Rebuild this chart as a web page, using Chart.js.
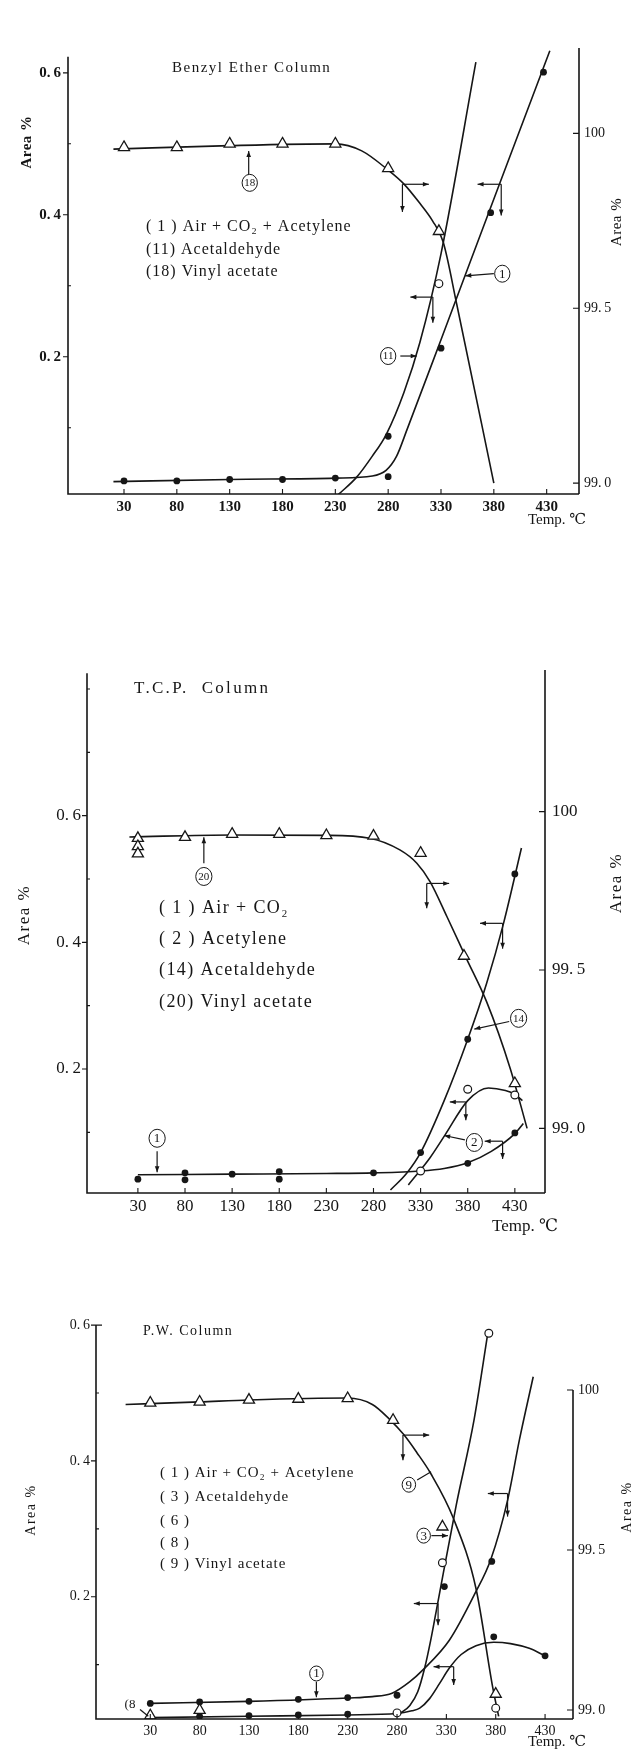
<!DOCTYPE html>
<html lang="en">
<head>
<meta charset="UTF-8">
<title>Area % vs Temp. — Benzyl Ether / T.C.P. / P.W. Columns</title>
<script src="https://cdn.jsdelivr.net/npm/chart.js@4"></script>
<style>
    body { margin: 0; background: #fff; width: 635px; height: 1751px; position: relative; overflow: hidden; }
    .panel { position: absolute; left: 0; }
</style>
</head>
<body>
<div class="panel" style="top:0px"><canvas id="benzyl" width="635" height="530"></canvas></div>
<div class="panel" style="top:640px"><canvas id="tcp" width="635" height="600"></canvas></div>
<div class="panel" style="top:1300px"><canvas id="pw" width="635" height="451"></canvas></div>

<script>
// ---- shared axis values ----
const temps = [30, 80, 130, 180, 230, 280, 330, 380, 430];
const leftTicks = [0.1, 0.2, 0.3, 0.4, 0.5, 0.6];
const leftTicksTcp = [0.1, 0.2, 0.3, 0.4, 0.5, 0.6, 0.7, 0.8];
const leftLabelled = [0.2, 0.4, 0.6];
const rightTicks = [99.0, 99.5, 100];

// ---- Benzyl Ether column ----
const beDots = [[30, 0.025], [80, 0.025], [130, 0.027], [180, 0.027], [230, 0.029], [280, 0.031], [280, 0.088], [330, 0.212], [377, 0.403], [427, 0.601]];
const beRings = [[328, 0.303]];
const beTriangles = [[30, 99.96], [80, 99.96], [130, 99.97], [180, 99.97], [230, 99.97], [280, 99.90], [328, 99.72]];
const beAirCurve = [[20, 0.024], [130, 0.027], [230, 0.029], [265, 0.032], [278, 0.040], [288, 0.060], [298, 0.098], [330, 0.224], [385, 0.442], [433, 0.631]];
const beAldCurve = [[233, 0.006], [250, 0.03], [265, 0.06], [278, 0.09], [295, 0.15], [310, 0.22], [330, 0.345], [363, 0.615]];
const beVinylCurve = [[20, 99.955], [130, 99.965], [230, 99.97], [255, 99.95], [280, 99.895], [295, 99.855], [310, 99.80], [322, 99.75], [332, 99.69], [345, 99.51], [380, 99.0]];
const beArrows = [[148, 0.455, 148, 0.49], [293.5, 0.443, 318.5, 0.443], [293.5, 0.443, 293.5, 0.404], [387, 0.443, 364.6, 0.443], [387, 0.443, 387, 0.399],
    [322.3, 0.284, 301, 0.284], [322.3, 0.284, 322.3, 0.248], [291.5, 0.201, 307, 0.201], [380, 0.317, 353, 0.314]];
const beLeaders = [];
const beTags = [['18', 149, 0.445], ['11', 280, 0.201], ['1', 388, 0.317]];
const beLegend = ['( 1 ) Air + CO₂ + Acetylene', '(11) Acetaldehyde', '(18) Vinyl acetate'];

// ---- T.C.P. column ----
const tcpDots = [[30, 0.026], [80, 0.036], [80, 0.025], [130, 0.034], [180, 0.038], [180, 0.026], [280, 0.036], [330, 0.068], [380, 0.051], [380, 0.247], [430, 0.099], [430, 0.508]];
const tcpRings = [[330, 0.039], [380, 0.168], [430, 0.159]];
const tcpTriangles = [[30, 99.916], [30, 99.89], [30, 99.867], [80, 99.919], [130, 99.929], [180, 99.929], [230, 99.925], [280, 99.923], [330, 99.869], [376, 99.544], [430, 99.142]];
const tcpAirCurve = [[30, 0.033], [130, 0.034], [230, 0.035], [280, 0.036], [330, 0.039], [355, 0.043], [380, 0.052], [405, 0.07], [430, 0.098], [439, 0.114]];
const tcpAcetyleneCurve = [[317, 0.017], [340, 0.06], [356, 0.096], [380, 0.15], [402, 0.17], [420, 0.166], [430, 0.16], [438, 0.15]];
const tcpAldCurve = [[298, 0.009], [315, 0.035], [330, 0.068], [355, 0.15], [380, 0.247], [400, 0.335], [418, 0.43], [437, 0.549]];
const tcpVinylCurve = [[21, 99.92], [130, 99.926], [230, 99.925], [276, 99.916], [308, 99.879], [326, 99.837], [340, 99.779], [358, 99.668], [378, 99.54], [400, 99.40], [425, 99.19], [443, 99.0]];
const tcpArrows = [[100, 0.525, 100, 0.566], [336.5, 0.493, 360.3, 0.493], [336.5, 0.493, 336.5, 0.454], [417, 0.43, 393, 0.43], [417, 0.43, 417, 0.39],
    [424, 0.275, 387, 0.263], [50.4, 0.07, 50.4, 0.037], [377, 0.088, 355, 0.095], [417, 0.086, 398, 0.086], [417, 0.086, 417, 0.058],
    [378, 0.148, 361, 0.148], [378, 0.148, 378, 0.119]];
const tcpLeaders = [];
const tcpTags = [['20', 100, 0.504], ['14', 434, 0.28], ['1', 50.4, 0.0906], ['2', 387, 0.084]];
const tcpLegend = ['( 1 ) Air + CO₂', '( 2 ) Acetylene', '(14) Acetaldehyde', '(20) Vinyl acetate'];

// ---- P.W. column ----
const pwDots = [[30, 0.043], [80, 0.045], [130, 0.046], [180, 0.049], [230, 0.0515], [280, 0.055], [80, 0.024], [130, 0.025], [180, 0.026], [230, 0.027],
    [328, 0.215], [376, 0.252], [378, 0.141], [430, 0.113]];
const pwRings = [[280, 0.029], [326, 0.25], [373, 0.588], [380, 0.036]];
const pwTriangles = [[30, 0.025], [80, 0.033], [326, 0.303]];
const pwVinylTriangles = [[30, 99.96], [80, 99.963], [130, 99.969], [180, 99.972], [230, 99.974], [276, 99.906], [380, 99.05]];
const pwAirCurve = [[30, 0.043], [130, 0.046], [230, 0.051], [255, 0.053], [275, 0.058], [293, 0.075], [306, 0.092], [333, 0.136], [359, 0.205], [375, 0.255], [392, 0.342], [404, 0.431], [418, 0.524]];
const pwAldCurve = [[283, 0.028], [293, 0.04], [301, 0.06], [308, 0.095], [314, 0.135], [320, 0.181], [340, 0.335], [358, 0.46], [372, 0.588]];
const pwLowCurve = [[30, 0.022], [130, 0.024], [230, 0.026], [280, 0.028], [295, 0.032], [303, 0.036], [313, 0.05], [323, 0.072], [333, 0.095], [345, 0.115], [360, 0.128], [378, 0.133], [395, 0.131], [414, 0.124], [430, 0.113]];
const pwVinylCurve = [[5, 99.955], [80, 99.963], [130, 99.969], [230, 99.975], [255, 99.955], [272, 99.91], [287, 99.86], [300, 99.805], [314, 99.74], [337, 99.60], [360, 99.38], [377, 99.07], [383, 98.98]];
const pwArrows = [[198.3, 0.075, 198.3, 0.052], [314.8, 0.29, 331.6, 0.29], [286, 0.438, 312.6, 0.438], [286, 0.438, 286, 0.401],
    [392, 0.352, 372, 0.352], [392, 0.352, 392, 0.318], [321.6, 0.19, 297, 0.19], [321.6, 0.19, 321.6, 0.158],
    [337.4, 0.097, 317, 0.097], [337.4, 0.097, 337.4, 0.07]];
const pwLeaders = [[19.6, 0.034, 28, 0.024], [300.4, 0.372, 314.5, 0.384]];
const pwTags = [['1', 198.3, 0.087], ['3', 307, 0.29], ['9', 292, 0.365]];
const pwLegend = ['( 1 ) Air + CO₂ + Acetylene', '( 3 ) Acetaldehyde', '( 6 )', '( 8 )', '( 9 ) Vinyl acetate'];

const INK = '#161616';
const SERIF = '"Liberation Serif", "DejaVu Serif", serif';

const xy = arr => arr.map(([x, y]) => ({ x, y }));

function curve(arr, axis) {
    return {
        type: 'line', data: xy(arr), yAxisID: axis, order: 1,
        borderColor: INK, borderWidth: 1.6, pointRadius: 0,
        cubicInterpolationMode: 'monotone', fill: false
    };
}

function marks(arr, axis, kind) {
    const base = { type: 'scatter', data: xy(arr), yAxisID: axis, order: 0, showLine: false, pointBorderColor: INK };
    if (kind === 'dot') return Object.assign(base, { pointStyle: 'circle', pointRadius: 3.4, pointBackgroundColor: INK, pointBorderWidth: 0 });
    if (kind === 'ring') return Object.assign(base, { pointStyle: 'circle', pointRadius: 3.9, pointBackgroundColor: '#fff', pointBorderWidth: 1.2 });
    return Object.assign(base, { pointStyle: 'triangle', pointRadius: 6.4, pointBackgroundColor: '#fff', pointBorderWidth: 1.3 });
}

function arrow(ctx, x1, y1, x2, y2) {
    const ang = Math.atan2(y2 - y1, x2 - x1);
    ctx.beginPath();
    ctx.moveTo(x1, y1);
    ctx.lineTo(x2, y2);
    ctx.stroke();
    ctx.beginPath();
    ctx.moveTo(x2, y2);
    ctx.lineTo(x2 - 6 * Math.cos(ang) + 2.3 * Math.sin(ang), y2 - 6 * Math.sin(ang) - 2.3 * Math.cos(ang));
    ctx.lineTo(x2 - 6 * Math.cos(ang) - 2.3 * Math.sin(ang), y2 - 6 * Math.sin(ang) + 2.3 * Math.cos(ang));
    ctx.closePath();
    ctx.fill();
}

function putText(ctx, t) {
    ctx.save();
    ctx.font = t.font + ' ' + SERIF;
    ctx.fillStyle = INK;
    ctx.textAlign = t.align || 'left';
    ctx.textBaseline = 'middle';
    if ('letterSpacing' in ctx) ctx.letterSpacing = (t.ls || 0) + 'px';
    ctx.translate(t.x, t.y);
    if (t.rot) ctx.rotate(t.rot);
    ctx.fillText(t.t, 0, 0);
    ctx.restore();
}

// axis lines, inner tick marks, labels, arrows and circled numbers
function extrasFor(cfg) {
    return {
        id: 'extras',
        afterDraw(chart) {
            const ctx = chart.ctx;
            const { x, yL, yR } = chart.scales;
            const a = chart.chartArea;
            ctx.save();
            ctx.strokeStyle = INK;
            ctx.fillStyle = INK;
            ctx.lineWidth = 1.6;
            ctx.beginPath();
            ctx.moveTo(a.left, yL.getPixelForValue(cfg.leftTop));
            ctx.lineTo(a.left, a.bottom);
            ctx.lineTo(a.right, a.bottom);
            ctx.moveTo(a.right, yR.getPixelForValue(cfg.rightTop));
            ctx.lineTo(a.right, a.bottom);
            ctx.stroke();

            ctx.lineWidth = 1.1;
            ctx.beginPath();
            temps.forEach(v => {
                const px = x.getPixelForValue(v);
                ctx.moveTo(px, a.bottom);
                ctx.lineTo(px, a.bottom - 5);
            });
            rightTicks.forEach(v => {
                const py = yR.getPixelForValue(v);
                ctx.moveTo(a.right, py);
                ctx.lineTo(a.right - 6, py);
            });
            cfg.leftTicks.forEach(v => {
                const py = yL.getPixelForValue(v);
                const major = leftLabelled.some(m => Math.abs(m - v) < 1e-6);
                ctx.moveTo(a.left - (major ? 5 : 0), py);
                ctx.lineTo(a.left + (major ? 0 : 3), py);
            });
            if (cfg.topHook) {
                const py = yL.getPixelForValue(cfg.leftTop);
                ctx.moveTo(a.left, py);
                ctx.lineTo(a.left + 6, py);
            }
            ctx.stroke();

            ctx.lineWidth = 1.2;
            cfg.arrows.forEach(([x1, y1, x2, y2]) => {
                arrow(ctx, x.getPixelForValue(x1), yL.getPixelForValue(y1), x.getPixelForValue(x2), yL.getPixelForValue(y2));
            });
            cfg.leaders.forEach(([x1, y1, x2, y2]) => {
                ctx.beginPath();
                ctx.moveTo(x.getPixelForValue(x1), yL.getPixelForValue(y1));
                ctx.lineTo(x.getPixelForValue(x2), yL.getPixelForValue(y2));
                ctx.stroke();
            });
            cfg.tags.forEach(([n, tx, ty]) => {
                const px = x.getPixelForValue(tx), py = yL.getPixelForValue(ty);
                ctx.beginPath();
                ctx.ellipse(px, py, cfg.tagR * 0.9, cfg.tagR, 0, 0, Math.PI * 2);
                ctx.fillStyle = '#fff';
                ctx.fill();
                ctx.lineWidth = 1;
                ctx.stroke();
                ctx.fillStyle = INK;
                ctx.font = (n.length > 1 ? 11 : 13) + 'px ' + SERIF;
                ctx.textAlign = 'center';
                ctx.textBaseline = 'middle';
                ctx.fillText(n, px, py + 0.5);
            });
            ctx.restore();

            cfg.legend.forEach((s, i) => putText(ctx, { t: s, x: cfg.legendX, y: cfg.legendY[i], font: cfg.legendFont, ls: cfg.legendLs }));
            cfg.texts.forEach(t => putText(ctx, t));
        }
    };
}

function buildPanel(cfg) {
    const h = document.getElementById(cfg.id).height;
    const tickFont = { family: SERIF, size: cfg.tickSize, weight: cfg.tickWeight };
    return new Chart(document.getElementById(cfg.id), {
        data: { datasets: cfg.datasets },
        options: {
            responsive: false,
            animation: false,
            devicePixelRatio: 1,
            events: [],
            layout: { padding: { top: cfg.area.top, left: 0, right: 0, bottom: 0 } },
            plugins: { legend: { display: false }, tooltip: { enabled: false } },
            scales: {
                x: {
                    type: 'linear', min: cfg.xRange[0], max: cfg.xRange[1],
                    afterBuildTicks: s => { s.ticks = temps.map(v => ({ value: v })); },
                    afterFit: s => { s.height = h - cfg.area.bottom; },
                    grid: { display: false, drawTicks: false }, border: { display: false },
                    ticks: { font: tickFont, color: INK, padding: cfg.xPad, autoSkip: false, maxRotation: 0, callback: v => String(v) }
                },
                yL: {
                    type: 'linear', position: 'left', min: cfg.yL[0], max: cfg.yL[1],
                    afterBuildTicks: s => { s.ticks = cfg.leftTicks.map(v => ({ value: v })); },
                    afterFit: s => { s.width = cfg.area.left; },
                    grid: { display: false, drawTicks: false }, border: { display: false },
                    ticks: {
                        font: tickFont, color: INK, padding: cfg.leftPad,
                        callback: v => leftLabelled.some(m => Math.abs(m - v) < 1e-6) ? v.toFixed(1).replace('.', '.\u2009') : ''
                    }
                },
                yR: {
                    type: 'linear', position: 'right', min: cfg.yR[0], max: cfg.yR[1],
                    afterBuildTicks: s => { s.ticks = rightTicks.map(v => ({ value: v })); },
                    afterFit: s => { s.width = 635 - cfg.area.right; },
                    grid: { display: false, drawTicks: false }, border: { display: false },
                    ticks: {
                        font: { family: SERIF, size: cfg.rightSize }, color: INK, padding: cfg.rightPad,
                        callback: v => v === 100 ? '100' : v.toFixed(1).replace('.', '.\u2009')
                    }
                }
            }
        },
        plugins: [extrasFor(cfg)]
    });
}

const UP = -Math.PI / 2;

buildPanel({
    id: 'benzyl',
    area: { top: 48, bottom: 494, left: 68, right: 579 },
    xRange: [-23, 460.6], yL: [0.0066, 0.635], yR: [98.969, 100.244],
    leftTicks: leftTicks, leftTop: 0.6225, rightTop: 100.244,
    tickSize: 15, tickWeight: 'bold', rightSize: 14, xPad: 4, leftPad: 7, rightPad: 5,
    datasets: [
        marks(beTriangles, 'yR', 'tri'), marks(beRings, 'yL', 'ring'), marks(beDots, 'yL', 'dot'),
        curve(beAirCurve, 'yL'), curve(beAldCurve, 'yL'), curve(beVinylCurve, 'yR')
    ],
    arrows: beArrows, leaders: beLeaders, tags: beTags, tagR: 8.5,
    legend: beLegend, legendX: 146, legendY: [227, 250, 272], legendFont: '16px', legendLs: 1.0,
    texts: [
        { t: 'Benzyl Ether Column', x: 172, y: 68, font: '15px', ls: 1.5 },
        { t: 'Area %', x: 27, y: 142, font: 'bold 15px', rot: UP, align: 'center', ls: 0.5 },
        { t: 'Area %', x: 617, y: 222, font: '15px', rot: UP, align: 'center', ls: 0.5 },
        { t: 'Temp. ℃', x: 557, y: 520, font: '15px', align: 'center' }
    ]
});

buildPanel({
    id: 'tcp',
    area: { top: 30, bottom: 553, left: 87, right: 545 },
    xRange: [-24, 462], yL: [0.0042, 0.830], yR: [98.796, 100.447],
    leftTicks: leftTicksTcp, leftTop: 0.825, rightTop: 100.447,
    tickSize: 17, tickWeight: 'normal', rightSize: 17, xPad: 3, leftPad: 6, rightPad: 7,
    datasets: [
        marks(tcpTriangles, 'yR', 'tri'), marks(tcpRings, 'yL', 'ring'), marks(tcpDots, 'yL', 'dot'),
        curve(tcpAirCurve, 'yL'), curve(tcpAcetyleneCurve, 'yL'), curve(tcpAldCurve, 'yL'), curve(tcpVinylCurve, 'yR')
    ],
    arrows: tcpArrows, leaders: tcpLeaders, tags: tcpTags, tagR: 9,
    legend: tcpLegend, legendX: 159, legendY: [268, 299, 330, 362], legendFont: '18px', legendLs: 1.4,
    texts: [
        { t: 'T.C.P.  Column', x: 134, y: 49, font: '17px', ls: 2.3 },
        { t: 'Area %', x: 25, y: 275, font: '17px', rot: UP, align: 'center', ls: 1.5 },
        { t: 'Area %', x: 617, y: 243, font: '17px', rot: UP, align: 'center', ls: 1.5 },
        { t: 'Temp. ℃', x: 525, y: 587, font: '17px', align: 'center' }
    ]
});

buildPanel({
    id: 'pw',
    area: { top: 20, bottom: 419, left: 96, right: 573 },
    xRange: [-25, 458.3], yL: [0.020, 0.6075], yR: [98.972, 100.219],
    leftTicks: leftTicks, leftTop: 0.6, rightTop: 100, topHook: true,
    tickSize: 14, tickWeight: 'normal', rightSize: 14, xPad: 4, leftPad: 6, rightPad: 5,
    datasets: [
        marks(pwVinylTriangles, 'yR', 'tri'), marks(pwTriangles, 'yL', 'tri'), marks(pwRings, 'yL', 'ring'), marks(pwDots, 'yL', 'dot'),
        curve(pwAirCurve, 'yL'), curve(pwAldCurve, 'yL'), curve(pwLowCurve, 'yL'), curve(pwVinylCurve, 'yR')
    ],
    arrows: pwArrows, leaders: pwLeaders, tags: pwTags, tagR: 7.5,
    legend: pwLegend, legendX: 160, legendY: [173, 197, 221, 243, 264], legendFont: '15px', legendLs: 1.0,
    texts: [
        { t: 'P.W. Column', x: 143, y: 31, font: '14px', ls: 1.5 },
        { t: '(8', x: 130, y: 405, font: '13px', align: 'center' },
        { t: 'Area %', x: 31, y: 210, font: '14px', rot: UP, align: 'center', ls: 1.5 },
        { t: 'Area %', x: 627, y: 207, font: '14px', rot: UP, align: 'center', ls: 1.5 },
        { t: 'Temp. ℃', x: 557, y: 442, font: '15px', align: 'center' }
    ]
});
</script>
</body>
</html>
